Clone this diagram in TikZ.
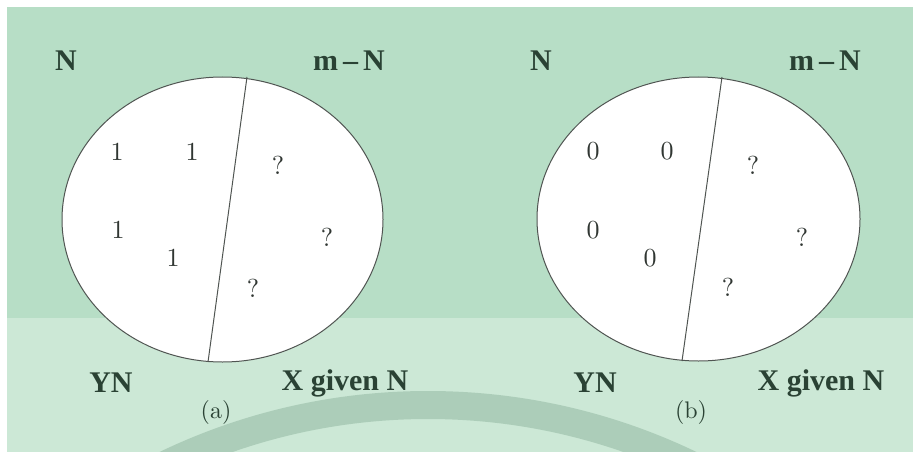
\documentclass[tikz,border=0pt]{standalone}
\usepackage{fontspec}
\usetikzlibrary{shapes.geometric}
\newfontfamily\labfont{Liberation Serif}
\newfontfamily\numfont[Extension=.otf]{lmroman10-regular}
\definecolor{bgtop}{RGB}{183,222,198}
\definecolor{bglow}{RGB}{204,232,214}
\definecolor{band}{RGB}{172,205,185}
\definecolor{txt}{RGB}{42,66,52}
\definecolor{numc}{RGB}{48,54,50}
\definecolor{edge}{RGB}{80,85,82}
\tikzset{
  lab/.style={text=txt, font=\labfont\bfseries\fontsize{30}{30}\selectfont, inner sep=0pt},
  val/.style={text=numc, font=\numfont\fontsize{26}{26}\selectfont, inner sep=0pt},
  subcap/.style={text=txt, font=\numfont\fontsize{24}{24}\selectfont, inner sep=0pt},
  oval/.style={ellipse, draw=edge, line width=1pt, fill=white, inner sep=0pt},
  divider/.style={draw=edge, line width=1pt}
}
\begin{document}
\begin{tikzpicture}[x=1pt,y=-1pt]
\useasboundingbox (0,0) rectangle (918,452);
\fill[white] (0,0) rectangle (918,452);
\fill[bgtop] (7,7) rectangle (913,318);
\fill[bglow] (7,318) rectangle (913,452);
\begin{scope}
\clip (7,318) rectangle (913,452);
\fill[band, even odd rule] (428,1011) circle[radius=620] (428,1011) circle[radius=592];
\end{scope}
% (a)
\node[oval, minimum width=321pt, minimum height=285pt] (ea) at (222.5,219.5) {};
\coordinate (ta) at (247,77);
\coordinate (ba) at (208,362);
\draw[divider] (ta) -- (ba);
\node[lab] (na) at (66,61) {N};
\node[lab] (ma) at (349,61) {m\,–\,N};
\node[lab] (ya) at (111,383) {YN};
\node[lab] (xa) at (345,383) {X given N};
\node[subcap] (capa) at (216,412) {(a)};
\node[val] (a1) at (117,152) {1};
\node[val] (a2) at (192,152) {1};
\node[val] (a3) at (118,230) {1};
\node[val] (a4) at (173,258) {1};
\node[val] (aq1) at (278,165) {?};
\node[val] (aq2) at (327,237) {?};
\node[val] (aq3) at (253,288) {?};
% (b)
\node[oval, minimum width=323pt, minimum height=284pt] (eb) at (698.5,219) {};
\coordinate (tb) at (722,77);
\coordinate (bb) at (682,361);
\draw[divider] (tb) -- (bb);
\node[lab] (nb) at (541,61) {N};
\node[lab] (mb) at (825,61) {m\,–\,N};
\node[lab] (yb) at (595,383) {YN};
\node[lab] (xb) at (821,383) {X given N};
\node[subcap] (capb) at (691,412) {(b)};
\node[val] (b1) at (593,151) {0};
\node[val] (b2) at (667,151) {0};
\node[val] (b3) at (593,230) {0};
\node[val] (b4) at (650,258) {0};
\node[val] (bq1) at (753,165) {?};
\node[val] (bq2) at (802,237) {?};
\node[val] (bq3) at (728,287) {?};
\end{tikzpicture}
\end{document}
